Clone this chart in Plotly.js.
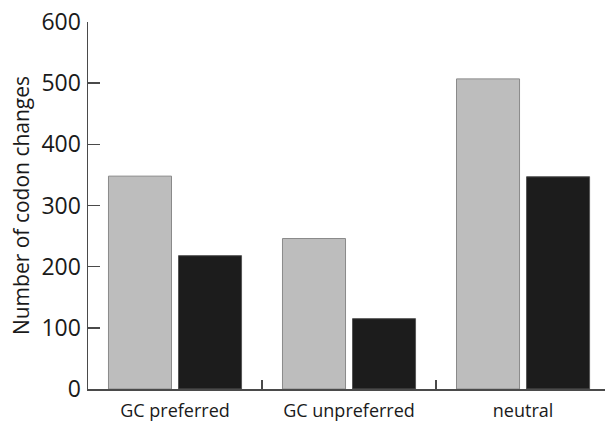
<!DOCTYPE html>
<html>
<head>
<meta charset="utf-8">
<script src="https://cdn.plot.ly/plotly-3.0.1.min.js"></script>
<style>html,body{margin:0;padding:0;background:#fff}#chart{width:605px;height:424px}</style>
</head>
<body>
<div id="chart"></div>
<script>
const categories = ["GC preferred", "GC unpreferred", "neutral"];
const seriesA = [348, 246, 507];
const seriesB = [218, 115, 347];
const yTickVals = [0, 100, 200, 300, 400, 500, 600];

const FONT = "Open Sans, Liberation Sans, sans-serif";
const data = [
  {type: "bar", x: categories, y: seriesA, name: "A",
   marker: {color: "#bdbdbd", line: {color: "#8a8a8a", width: 1}}},
  {type: "bar", x: categories, y: seriesB, name: "B",
   marker: {color: "#1c1c1c", line: {color: "#555555", width: 1}}}
];
const layout = {
  width: 605, height: 424,
  margin: {l: 88, r: 0, t: 22, b: 35},
  paper_bgcolor: "#ffffff", plot_bgcolor: "#ffffff",
  showlegend: false,
  barmode: "group", bargap: 0.195, bargroupgap: 0.1,
  font: {family: FONT, color: "#1a1a1a"},
  xaxis: {
    range: [-0.5, 2.471], automargin: false,
    showline: true, linecolor: "#4a4a4a", linewidth: 1.5,
    ticks: "inside", tickson: "boundaries", ticklen: 9, tickcolor: "#4a4a4a", tickwidth: 1.5,
    tickfont: {size: 18, family: FONT, color: "#1a1a1a"},
    ticklabelstandoff: 5,
    showgrid: false, zeroline: false
  },
  yaxis: {
    range: [0, 600], automargin: false,
    tickvals: yTickVals,
    showline: true, linecolor: "#4a4a4a", linewidth: 1.5,
    ticks: "inside", ticklen: 12, tickcolor: "#4a4a4a", tickwidth: 1.5,
    tickfont: {size: 23, family: FONT, color: "#1a1a1a"},
    ticklabelstandoff: 1,
    showgrid: false, zeroline: false,
    title: {text: "Number of codon changes", font: {size: 21, family: FONT, color: "#1a1a1a"}, standoff: 6}
  }
};
Plotly.newPlot("chart", data, layout, {staticPlot: true, displayModeBar: false});
</script>
</body>
</html>
